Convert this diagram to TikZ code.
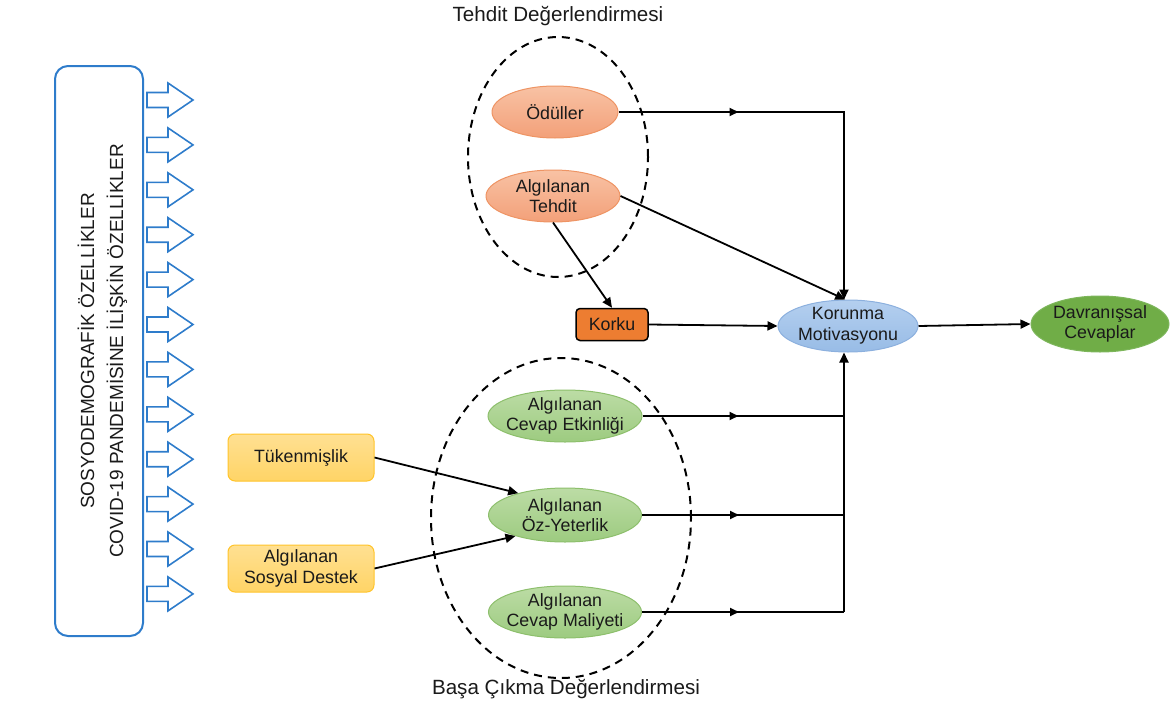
\documentclass[tikz,border=0pt]{standalone}
\usepackage{fontspec}
\setmainfont{Liberation Sans}
\usetikzlibrary{arrows.meta,decorations.markings,shapes.geometric}

\definecolor{orTop}{HTML}{F8C2A4}
\definecolor{orBot}{HTML}{F3A079}
\definecolor{orLine}{HTML}{EE9464}
\definecolor{grTop}{HTML}{BCDCA5}
\definecolor{grBot}{HTML}{9DCB80}
\definecolor{grLine}{HTML}{8DBF6C}
\definecolor{blTop}{HTML}{B4CFEF}
\definecolor{blBot}{HTML}{98BCE6}
\definecolor{blLine}{HTML}{8CB0DE}
\definecolor{dvFill}{HTML}{70AD47}
\definecolor{dvLine}{HTML}{7DB65B}
\definecolor{ylTop}{HTML}{FFE092}
\definecolor{ylBot}{HTML}{FFD466}
\definecolor{ylLine}{HTML}{FFC42A}
\definecolor{krFill}{HTML}{ED7D31}
\definecolor{sideBlue}{HTML}{2E7CCB}
\definecolor{txt}{HTML}{1A1A1A}

\begin{document}
\begin{tikzpicture}[x=1pt,y=-1pt,
  nodefont/.style={font=\fontsize{17.8}{20.6}\selectfont, align=center, text=txt},
  titlefont/.style={font=\fontsize{20.6}{24}\selectfont, text=txt},
  ell/.style={ellipse, inner xsep=-15pt, inner ysep=-5pt, nodefont, line width=1pt},
  orell/.style={ell, draw=orLine, top color=orTop, bottom color=orBot},
  grell/.style={ell, draw=grLine, top color=grTop, bottom color=grBot},
  blell/.style={ell, draw=blLine, top color=blTop, bottom color=blBot},
  dvell/.style={ell, draw=dvLine, fill=dvFill},
  ylbox/.style={rectangle, rounded corners=7pt, inner sep=0pt, nodefont,
    draw=ylLine, line width=1pt, top color=ylTop, bottom color=ylBot,
    minimum width=146pt, minimum height=47pt},
  group/.style={ellipse, draw=black, line width=2pt, dash pattern=on 8pt off 6pt, inner sep=0pt},
  conn/.style={draw=black, line width=1.8pt},
  endtip/.style={-{Triangle[length=10pt,width=9pt]}},
  midtip/.style={postaction={decorate}, decoration={markings,
    mark=at position #1 with {\arrow{Triangle[length=9pt,width=8pt]}}}},
  sidearrow/.style={draw=sideBlue, line width=1.6pt, fill=white, line join=miter}
]
\useasboundingbox (0,0) rectangle (1173,704);

% left panel with the descriptive characteristics
\node[draw=sideBlue, line width=2pt, rounded corners=13pt,
      minimum width=88pt, minimum height=570pt, inner sep=0pt] (side) at (99,351) {};
\node[rotate=90, font=\fontsize{19}{22}\selectfont, text=txt, inner sep=0pt] (sosyo) at (86,351) {SOSYODEMOGRAFİK ÖZELLİKLER};
\node[rotate=90, font=\fontsize{19}{22}\selectfont, text=txt, inner sep=0pt] (covid) at (117,351) {COVID-19 PANDEMİSİNE İLİŞKİN ÖZELLİKLER};

% hollow block arrows leaving the panel
\foreach \i in {0,...,11} {
  \pgfmathsetmacro{\cy}{100+44.9*\i}
  \draw[sidearrow] (147,\cy-7.5) -- (168,\cy-7.5) -- (168,\cy-17) -- (193,\cy)
     -- (168,\cy+17) -- (168,\cy+7.5) -- (147,\cy+7.5) -- cycle;
}

% appraisal groups
\node[group, minimum width=180pt, minimum height=240pt] (threat) at (558,157) {};
\node[group, minimum width=260pt, minimum height=320pt] (coping) at (561,518) {};
\node[titlefont] (threatlbl) at (558,16) {Tehdit Değerlendirmesi};
\node[titlefont] (copinglbl) at (566,689) {Başa Çıkma Değerlendirmesi};

% threat appraisal
\node[orell, minimum width=126pt, minimum height=52pt] (odul) at (555,112) {Ödüller};
\node[orell, minimum width=134pt, minimum height=52pt] (teh) at (553,196) {Algılanan\\Tehdit};
\node[rectangle, rounded corners=4pt, draw=black, line width=1.5pt, fill=krFill,
      minimum width=72pt, minimum height=32pt, inner sep=0pt, nodefont] (korku) at (612,324.5) {Korku};

% coping appraisal
\node[grell, minimum width=154pt, minimum height=52pt] (etk) at (565,416) {Algılanan\\Cevap Etkinliği};
\node[grell, minimum width=153pt, minimum height=54pt] (oz) at (565,515) {Algılanan\\Öz-Yeterlik};
\node[grell, minimum width=153pt, minimum height=52pt] (mal) at (565,612) {Algılanan\\Cevap Maliyeti};

% external factors
\node[ylbox] (tuk) at (301,457.5) {Tükenmişlik};
\node[ylbox] (sos) at (301,568.5) {Algılanan\\Sosyal Destek};

% outcome
\node[blell, minimum width=140pt, minimum height=52pt] (koru) at (848,326) {Korunma\\Motivasyonu};
\node[dvell, minimum width=138pt, minimum height=56pt] (dav) at (1100,324) {Davranışsal\\Cevaplar};

% junction points on the collector line
\coordinate (jt) at (844,112);
\coordinate (je) at (844,416);
\coordinate (jo) at (844,515);
\coordinate (jm) at (844,612);

% connectors
\draw[conn, endtip, midtip=120pt] (odul.east) -- (jt) -- (jt |- koru.north);
\draw[conn, endtip] (teh.east) -- (koru.96);
\draw[conn, endtip] (teh.south) -- (korku.north);
\draw[conn, endtip] (korku.east) -- (koru.west);
\draw[conn, endtip] (koru.east) -- (dav.west);

\draw[conn, midtip=96pt] (etk.east) -- (je);
\draw[conn, midtip=97pt] (oz.east) -- (jo);
\draw[conn, midtip=97pt] (mal.east) -- (jm);
\draw[conn, endtip] (jm) -- (jm |- koru.south);

\draw[conn, endtip] (tuk.east) -- (oz.155);
\draw[conn, endtip] (sos.east) -- (oz.203);
\end{tikzpicture}
\end{document}
